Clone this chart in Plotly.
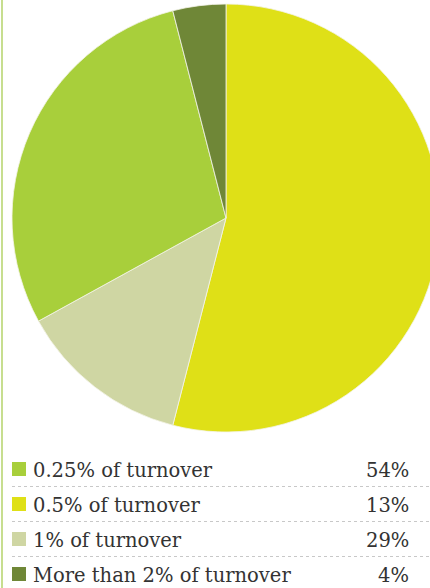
import plotly.graph_objects as go

# Pie slices, clockwise from 12 o'clock
slice_values = [54, 13, 29, 4]
slice_colors = ["#dfe017", "#cfd6a3", "#a8cf3b", "#6f8737"]

# Legend table rows
legend_labels = ["0.25% of turnover", "0.5% of turnover", "1% of turnover",
                 "More than 2% of turnover"]
legend_values = ["54%", "13%", "29%", "4%"]
legend_colors = ["#a8cf3b", "#dfe017", "#cfd6a3", "#6f8737"]

W, H = 460, 588
FONT = "'DejaVu Serif', serif"

fig = go.Figure()
fig.add_trace(go.Pie(
    values=slice_values,
    marker=dict(colors=slice_colors, line=dict(color="#f4f4e8", width=0.8)),
    sort=False,
    direction="clockwise",
    rotation=0,
    textinfo="none",
    hoverinfo="skip",
    showlegend=False,
    domain=dict(x=[12 / W, 440 / W], y=[1 - 432 / H, 1 - 4 / H]),
))

shapes = [
    # thin vertical rule on the left edge
    dict(type="line", xref="x", yref="y", x0=2, x1=2, y0=0, y1=H,
         line=dict(color="#b5d36a", width=1.5)),
]
annotations = []
row_y = [469, 504, 539, 574]
for i, (lab, val, col) in enumerate(zip(legend_labels, legend_values, legend_colors)):
    y = row_y[i]
    shapes.append(dict(type="rect", xref="x", yref="y", x0=12, x1=26,
                       y0=y - 7, y1=y + 7, fillcolor=col, line=dict(width=0)))
    annotations.append(dict(x=31, y=y + 1, xref="x", yref="y", text=lab,
                            showarrow=False, xanchor="left", yanchor="middle",
                            font=dict(family=FONT, size=19.5, color="#333333")))
    annotations.append(dict(x=411, y=y + 1, xref="x", yref="y", text=val,
                            showarrow=False, xanchor="right", yanchor="middle",
                            font=dict(family=FONT, size=19.5, color="#333333")))
    if i < len(legend_labels) - 1:
        sep = (row_y[i] + row_y[i + 1]) / 2
        shapes.append(dict(type="line", xref="x", yref="y", x0=12, x1=430,
                           y0=sep, y1=sep,
                           line=dict(color="#c8c8c8", width=1, dash="dot")))

fig.update_layout(
    width=W, height=H,
    margin=dict(l=0, r=0, t=0, b=0),
    paper_bgcolor="white", plot_bgcolor="white",
    xaxis=dict(range=[0, W], visible=False, fixedrange=True),
    yaxis=dict(range=[H, 0], visible=False, fixedrange=True),
    shapes=shapes,
    annotations=annotations,
)

fig.write_html(
    "out.html",
    config={"displayModeBar": False},
    post_script="document.documentElement.style.overflow='hidden';"
                "document.body.style.overflow='hidden';"
                "document.body.style.margin='0';",
)
